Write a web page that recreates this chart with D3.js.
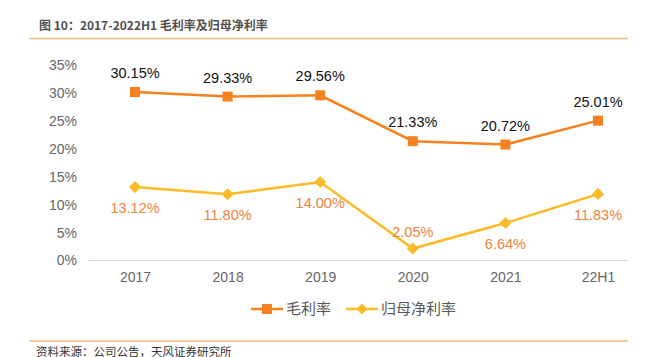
<!DOCTYPE html>
<html><head><meta charset="utf-8">
<script src="https://cdn.jsdelivr.net/npm/d3@7"></script>
<style>
html,body{margin:0;padding:0;background:#fff;}
svg{display:block;}
</style></head>
<body>
<svg id="c" width="658" height="357"></svg>
<script>
const categories = ["2017","2018","2019","2020","2021","22H1"];
const grossMargin = [30.15, 29.33, 29.56, 21.33, 20.72, 25.01];
const netMargin = [13.12, 11.80, 14.00, 2.05, 6.64, 11.83];
const yTicks = [0,5,10,15,20,25,30,35];
const seriesNames = ["毛利率","归母净利率"];
const titleText = "图 10：2017-2022H1 毛利率及归母净利率";
const sourceText = "资料来源：公司公告，天风证券研究所";

const svg = d3.select("#c");
const latin = "'Liberation Sans', Arial, Helvetica, sans-serif";
const cjk = "'Noto Sans CJK SC', 'Liberation Sans', sans-serif";
const orange = "#F5821F", yellow = "#FBBA26", labelOrange = "#F0823A";

// header
svg.append("text").attr("x",39).attr("y",30).text(titleText)
  .attr("font-family",cjk).attr("font-size",12).attr("font-weight","bold").attr("fill","#505050");
svg.append("line").attr("x1",29).attr("x2",628).attr("y1",38.5).attr("y2",38.5)
  .attr("stroke","#FBB47A").attr("stroke-width",1.5);
svg.append("line").attr("x1",29).attr("x2",628).attr("y1",341).attr("y2",341)
  .attr("stroke","#FBB47A").attr("stroke-width",1.5);
svg.append("text").attr("x",36).attr("y",355.5).text(sourceText)
  .attr("font-family",cjk).attr("font-size",11.5).attr("fill","#333");

const x = d3.scalePoint().domain(categories).range([135,598]);
const y = d3.scaleLinear().domain([0,35]).range([260,65]);

// y axis
const yAxis = d3.axisLeft(y).tickValues(yTicks).tickFormat(d=>d+"%").tickSize(0).tickPadding(0);
const ga = svg.append("g").attr("transform","translate(77,0)").call(yAxis);
ga.select(".domain").remove();
ga.selectAll("text").attr("font-family",latin).attr("font-size",14).attr("fill","#666").attr("dy","0.35em");

// x axis baseline
svg.append("line").attr("x1",89).attr("x2",628).attr("y1",260.5).attr("y2",260.5)
  .attr("stroke","#d9d9d9").attr("stroke-width",1);
const xAxis = d3.axisBottom(x).tickSize(0).tickPadding(0);
const gx = svg.append("g").attr("transform","translate(0,277)").call(xAxis);
gx.select(".domain").remove();
gx.selectAll("text").attr("font-family",latin).attr("font-size",14).attr("fill","#666").attr("dy","0.35em");

const line = d3.line().x((d,i)=>x(categories[i])).y(d=>y(d));

// gross
svg.append("path").datum(grossMargin).attr("d",line).attr("fill","none").attr("stroke",orange).attr("stroke-width",2.5);
svg.selectAll(".gm").data(grossMargin).enter().append("rect")
  .attr("x",(d,i)=>x(categories[i])-5).attr("y",d=>y(d)-5).attr("width",10).attr("height",10).attr("fill",orange);
svg.selectAll(".gml").data(grossMargin).enter().append("text")
  .attr("x",(d,i)=>x(categories[i])).attr("y",d=>y(d)-19).attr("dy","0.35em")
  .attr("text-anchor","middle").text(d=>d.toFixed(2)+"%")
  .attr("font-family",latin).attr("font-size",14.5).attr("fill","#111");

// net
svg.append("path").datum(netMargin).attr("d",line).attr("fill","none").attr("stroke",yellow).attr("stroke-width",2.5);
svg.selectAll(".nm").data(netMargin).enter().append("path")
  .attr("transform",(d,i)=>`translate(${x(categories[i])},${y(d)})`)
  .attr("d","M0,-6L6,0L0,6L-6,0Z").attr("fill",yellow);
svg.selectAll(".nml").data(netMargin).enter().append("text")
  .attr("x",(d,i)=>x(categories[i])).attr("y",(d,i)=>y(d)+(i===3?-17:21)).attr("dy","0.35em")
  .attr("text-anchor","middle").text(d=>d.toFixed(2)+"%")
  .attr("font-family",latin).attr("font-size",14.5).attr("fill",labelOrange);

// legend
const leg = [{x:251, c:orange, t:seriesNames[0], m:"sq"},{x:346, c:yellow, t:seriesNames[1], m:"dia"}];
leg.forEach(l=>{
  const g = svg.append("g");
  g.append("line").attr("x1",l.x).attr("x2",l.x+32).attr("y1",309).attr("y2",309).attr("stroke",l.c).attr("stroke-width",2.5);
  if(l.m==="sq") g.append("rect").attr("x",l.x+11).attr("y",304).attr("width",10).attr("height",10).attr("fill",l.c);
  else g.append("path").attr("transform",`translate(${l.x+16},309)`).attr("d","M0,-5.5L5.5,0L0,5.5L-5.5,0Z").attr("fill",l.c);
  g.append("text").attr("x",l.x+35).attr("y",309).attr("dy","0.35em").text(l.t)
   .attr("font-family",cjk).attr("font-size",15).attr("fill","#595959");
});
</script>
</body></html>
